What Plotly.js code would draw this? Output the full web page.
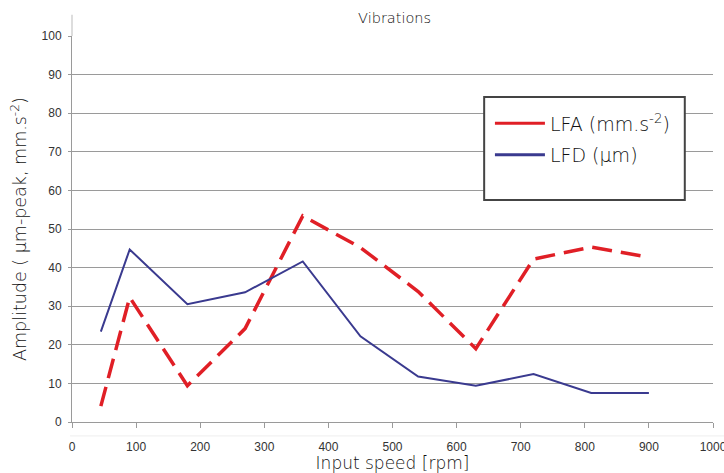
<!DOCTYPE html>
<html>
<head>
<meta charset="utf-8">
<script src="https://cdn.plot.ly/plotly-3.0.1.min.js"></script>
<style>
html,body{margin:0;padding:0;background:#fff;}
#chart{width:724px;height:473px;}
</style>
</head>
<body>
<div id="chart"></div>
<script>
const speed = [45, 90, 180, 270, 360, 450, 540, 630, 720, 810, 900];
const lfa = [4.1, 32.3, 9.4, 24.2, 53.4, 45.2, 33.8, 19.0, 42.2, 45.3, 42.7];
const lfd = [23.4, 44.7, 30.5, 33.6, 41.6, 22.2, 11.8, 9.4, 12.4, 7.5, 7.5];
const xTicks = [0, 100, 200, 300, 400, 500, 600, 700, 800, 900, 1000];
const yTicks = [0, 10, 20, 30, 40, 50, 60, 70, 80, 90, 100];
const names = ['LFA (mm.s<sup>-2</sup>)', 'LFD (µm)'];

const red = '#e01f26';
const blue = '#3a3a8f';
const txtFont = '"DejaVu Sans", "Open Sans", sans-serif';

const traces = [
  {x: speed, y: lfa, type: 'scatter', mode: 'lines', showlegend: false,
   line: {color: red, width: 3.5, dash: '20px,9px'}},
  {x: speed, y: lfd, type: 'scatter', mode: 'lines', showlegend: false,
   line: {color: blue, width: 2}},
  {x: [null], y: [null], type: 'scatter', mode: 'lines', name: names[0], legendgroup: 'a',
   line: {color: red, width: 3}},
  {x: [null], y: [null], type: 'scatter', mode: 'lines', name: names[1], legendgroup: 'b',
   line: {color: blue, width: 3}}
];

const layout = {
  width: 724, height: 473,
  margin: {l: 72, r: 11, t: 36, b: 51},
  paper_bgcolor: '#fff', plot_bgcolor: '#fff',
  title: {text: 'Vibrations', x: 0.545, xanchor: 'center', y: 0.962, yanchor: 'middle',
          font: {family: txtFont, size: 14.5, color: '#111', weight: 200}},
  xaxis: {
    range: [0, 1000], tickvals: xTicks, ticktext: xTicks.map(String),
    showgrid: false, zeroline: false, showline: true, linecolor: '#9a9a9a', linewidth: 1,
    ticks: 'outside', ticklen: 5, tickcolor: '#9a9a9a',
    ticklabelstandoff: 9, ticklabeloverflow: 'allow',
    tickfont: {family: 'Liberation Sans, Arial, sans-serif', size: 12, color: '#333'},
    title: {text: 'Input speed [rpm]', standoff: 4,
            font: {family: txtFont, size: 17, color: '#111', weight: 200}},
    fixedrange: true
  },
  yaxis: {
    range: [0, 100], tickvals: yTicks, ticktext: yTicks.map(String),
    showgrid: true, gridcolor: '#9a9a9a', gridwidth: 1,
    zeroline: false, showline: true, linecolor: '#9a9a9a', linewidth: 1,
    ticks: 'outside', ticklen: 3, tickcolor: '#9a9a9a',
    ticklabelstandoff: 4,
    tickfont: {family: 'Liberation Sans, Arial, sans-serif', size: 12, color: '#333'},
    title: {text: 'Amplitude ( µm-peak, mm.s<sup>-2</sup>)', standoff: 10,
            font: {family: txtFont, size: 17.5, color: '#111', weight: 200}},
    fixedrange: true
  },
  legend: {
    x: 0.652, y: 0.823, xanchor: 'left', yanchor: 'top',
    bgcolor: 'rgba(0,0,0,0)', borderwidth: 0,
    font: {family: txtFont, size: 19, color: '#111', weight: 200},
    itemwidth: 50,
    tracegroupgap: 4
  },
  shapes: [
    {type: 'rect', xref: 'paper', yref: 'paper', x0: 0.643, x1: 0.956, y0: 0.575, y1: 0.842,
     line: {color: '#444', width: 2}, fillcolor: '#fff', layer: 'above'},
    {type: 'line', xref: 'paper', yref: 'paper', x0: 0, x1: 0, y0: 1, y1: 1.055,
     line: {color: '#bbb', width: 1}},
    {type: 'line', xref: 'paper', yref: 'paper', x0: -0.003, x1: 1.02, y0: -0.036, y1: -0.036,
     line: {color: '#eeeeee', width: 1}}
  ]
};

Plotly.newPlot('chart', traces, layout, {displayModeBar: false, staticPlot: true});
</script>
</body>
</html>
